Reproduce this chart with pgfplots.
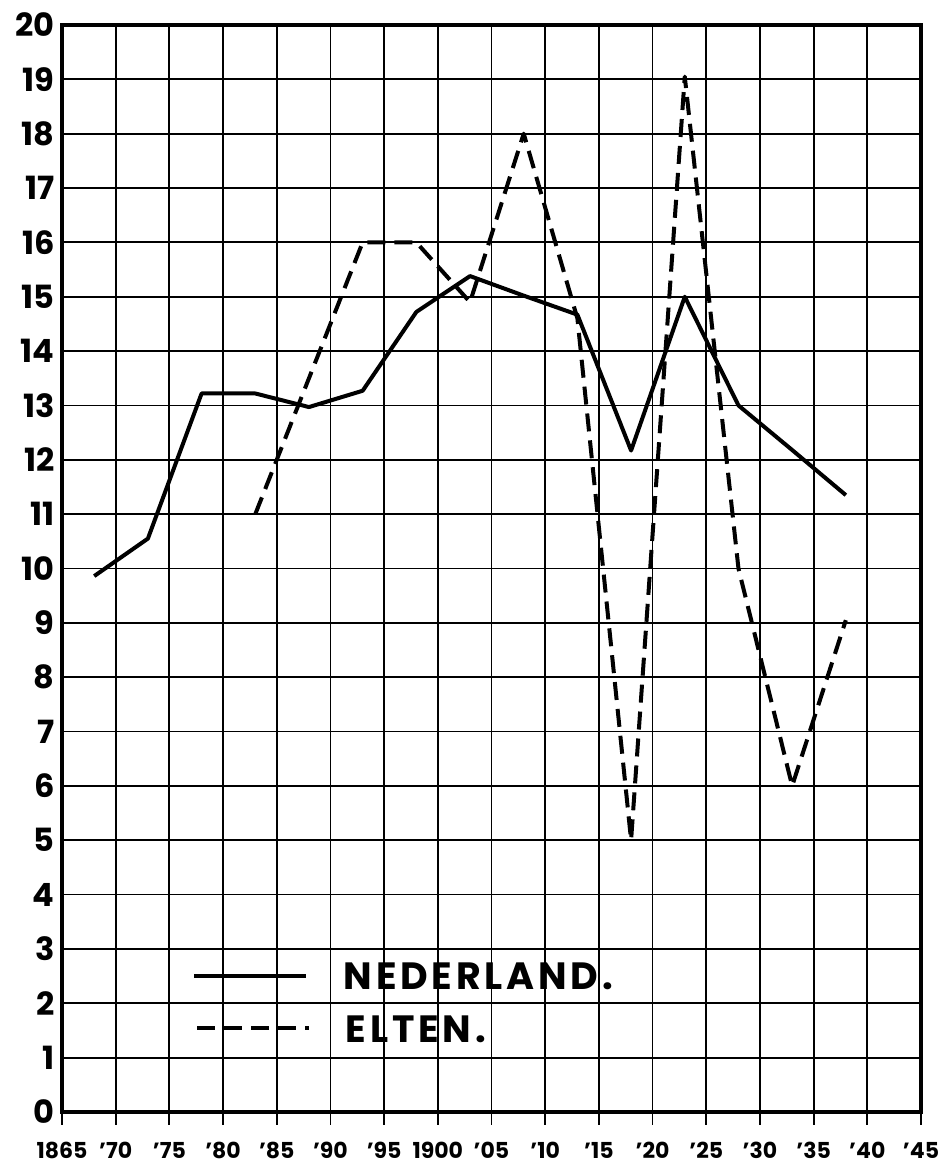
\documentclass[border=0pt]{standalone}
\usepackage{fontspec}
\setmainfont{Poppins}
\newfontfamily\legfont{Poppins}[LetterSpace=10]
\usepackage{pgfplots}
\pgfplotsset{compat=1.18}
\begin{document}
\begin{tikzpicture}
\begin{axis}[
  scale only axis,
  width=429.5pt, height=543.5pt,
  xmin=1865, xmax=1945, ymin=0, ymax=20,
  xtick={1865,1870,...,1945},
  ytick={0,1,...,20},
  xticklabels={1865,'70,'75,'80,'85,'90,'95,1900,'05,'10,'15,'20,'25,'30,'35,'40,'45},
  yticklabels={0,1,2,3,4,5,6,7,8,9,10,11,12,13,14,15,16,17,18,19,20},
  grid=major,
  major grid style={black, line width=0.9pt},
  axis line style={black, line width=1.6pt},
  xtick pos=left, ytick pos=left,
  tick align=outside,
  major tick length=6.5pt,
  xtick style={black, line width=0.9pt},
  ytick style={draw=none},
  xticklabel style={font=\bfseries\fontsize{11}{11}\selectfont, yshift=-5pt},
  yticklabel style={font=\bfseries\fontsize{16}{16}\selectfont, inner sep=0pt, xshift=3pt},
]
\addplot[black, line width=2pt, line join=round] coordinates {
 (1868,9.86) (1873,10.55) (1878,13.22) (1883,13.22) (1888,12.97)
 (1893,13.27) (1898,14.72) (1903,15.38) (1908,15.02) (1913,14.67)
 (1918,12.17) (1923,15.0) (1928,13.0) (1933,12.18) (1938,11.35)
};
\addplot[black, line width=2pt, line join=round, dash pattern=on 9pt off 4.5pt] coordinates {
 (1883,11.0) (1888,13.5) (1893,16.0) (1898,16.0) (1903,14.9)
 (1908,18.0) (1913,14.6) (1918,5.0) (1923,19.05) (1928,10.0)
 (1933,6.0) (1938,9.05)
};
\draw[black, line width=2pt] (axis cs:1877.3,2.5) -- (axis cs:1887.7,2.5);
\draw[black, line width=2pt, dash pattern=on 9pt off 4.5pt] (axis cs:1877.6,1.55) -- (axis cs:1888,1.55);
\node[anchor=base west, inner sep=0pt, font=\legfont\bfseries\fontsize{19}{19}\selectfont] at (axis cs:1891.2,2.245) {NEDERLAND.};
\node[anchor=base west, inner sep=0pt, font=\legfont\bfseries\fontsize{19}{19}\selectfont] at (axis cs:1891.4,1.27) {ELTEN.};
\end{axis}
\path ([xshift=-31pt,yshift=-29pt]current axis.south west) rectangle ([xshift=9pt,yshift=12.5pt]current axis.north east);
\end{tikzpicture}
\end{document}
